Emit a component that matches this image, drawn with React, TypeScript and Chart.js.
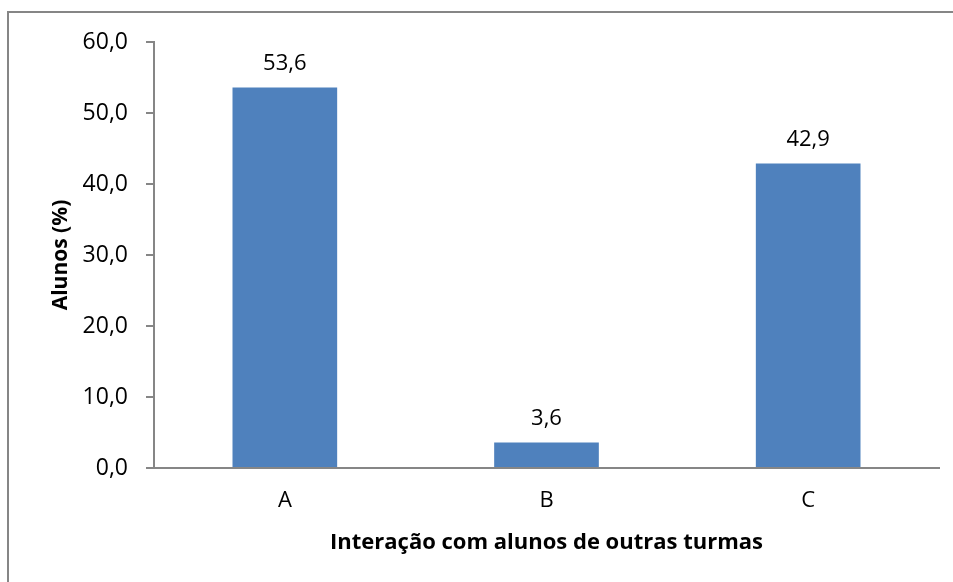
import React, { useEffect, useRef } from "react";
import { Chart, registerables } from "chart.js";

Chart.register(...registerables);

const categories = ["A", "B", "C"];
const values = [53.6, 3.6, 42.9];
const yTicks = [0, 10, 20, 30, 40, 50, 60];
const xTitle = "Interação com alunos de outras turmas";
const yTitle = "Alunos (%)";

const FONT = "'Open Sans', 'Liberation Sans', sans-serif";
const AXIS = "#868686";

const fmt = (v: number) => v.toFixed(1).replace(".", ",");

const frame = {
  id: "frame",
  beforeDraw(chart: any) {
    const ctx = chart.ctx;
    ctx.save();
    ctx.fillStyle = "#ffffff";
    ctx.fillRect(0, 0, chart.width, chart.height);
    ctx.strokeStyle = AXIS;
    ctx.lineWidth = 2;
    ctx.strokeRect(8, 12, chart.width + 20, chart.height + 20);
    ctx.restore();
  },
};

const valueLabels = {
  id: "valueLabels",
  afterDatasetsDraw(chart: any) {
    const ctx = chart.ctx;
    const meta = chart.getDatasetMeta(0);
    ctx.save();
    ctx.font = `22px ${FONT}`;
    ctx.fillStyle = "#000";
    ctx.textAlign = "center";
    ctx.textBaseline = "alphabetic";
    meta.data.forEach((bar: any, i: number) => {
      ctx.fillText(fmt(values[i]), bar.x, bar.y - 17);
    });
    ctx.restore();
  },
};

export default function App() {
  const ref = useRef<HTMLCanvasElement>(null);
  useEffect(() => {
    if (!ref.current) return;
    const chart = new Chart(ref.current, {
      type: "bar",
      data: {
        labels: categories,
        datasets: [
          {
            data: values,
            backgroundColor: "#4F81BD",
            borderWidth: 0,
            categoryPercentage: 0.8,
            barPercentage: 0.5,
          },
        ],
      },
      options: {
        animation: false,
        responsive: false,
        maintainAspectRatio: false,
        layout: { padding: { left: 0, right: 14, top: 42, bottom: 0 } },
        plugins: { legend: { display: false }, tooltip: { enabled: false } },
        scales: {
          x: {
            grid: { display: false, drawTicks: false },
            border: { display: true, color: AXIS, width: 2 },
            ticks: { color: "#000", font: { family: FONT, size: 22 }, padding: 20 },
            title: {
              display: true,
              text: xTitle,
              color: "#000",
              font: { family: FONT, size: 22, weight: "bold" },
              padding: { top: 0, bottom: 26 },
            },
            afterFit(scale: any) {
              scale.height = 114;
            },
          },
          y: {
            min: 0,
            max: 60,
            afterBuildTicks(scale: any) {
              scale.ticks = yTicks.map((v) => ({ value: v }));
            },
            grid: {
              display: true,
              drawOnChartArea: false,
              drawTicks: true,
              tickLength: 8,
              color: AXIS,
              lineWidth: 2,
            },
            border: { display: true, color: AXIS, width: 2 },
            ticks: {
              color: "#000",
              font: { family: FONT, size: 23 },
              padding: 18,
              callback: (v: any) => fmt(Number(v)),
            },
            title: {
              display: true,
              text: yTitle,
              color: "#000",
              font: { family: FONT, size: 21, weight: "bold" },
              padding: { top: 48, bottom: 0 },
            },
            afterFit(scale: any) {
              scale.width = 154;
            },
          },
        },
      },
      plugins: [frame, valueLabels],
    });
    return () => chart.destroy();
  }, []);
  return (
    <div style={{ position: "fixed", left: 0, top: 0, width: 953, height: 582 }}>
      <canvas ref={ref} width={953} height={582} style={{ width: 953, height: 582 }} />
    </div>
  );
}
